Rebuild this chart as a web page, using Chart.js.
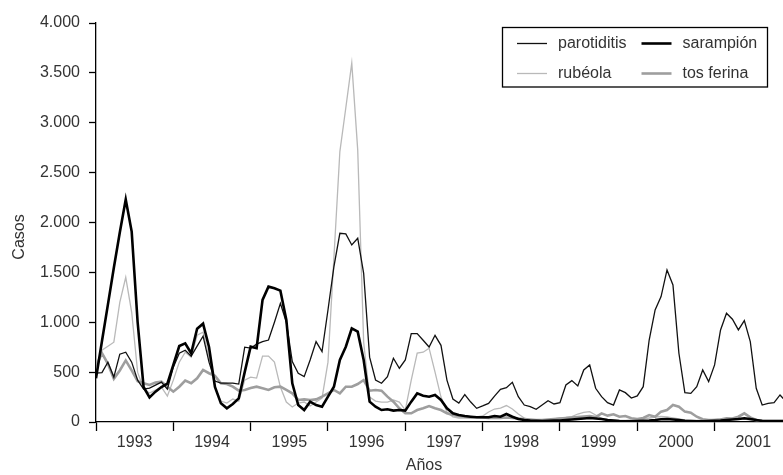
<!DOCTYPE html>
<html>
<head>
<meta charset="utf-8">
<script src="https://cdn.jsdelivr.net/npm/chart.js@4.4.1/dist/chart.umd.min.js"></script>
<style>
  html, body { margin: 0; padding: 0; background: #fff; }
</style>
</head>
<body>
<canvas id="casos" width="783" height="475"></canvas>
<script>
// 13 periodos de 4 semanas por año
const periodsPerYear = 13;
const years = ["1993", "1994", "1995", "1996", "1997", "1998", "1999", "2000", "2001"];
const yTicks = [0, 500, 1000, 1500, 2000, 2500, 3000, 3500, 4000];

const parotiditis = [
  490, 495, 600, 450, 680, 700, 600, 420, 330, 340, 370, 400, 330,
  550, 690, 720, 660, 760, 860, 600, 410, 390, 390, 390, 380, 750,
  740, 780, 806, 822, 1000, 1190, 1000, 605, 488, 455, 622, 806, 705,
  1123, 1558, 1892, 1886, 1775, 1842, 1490, 650, 421, 388, 455, 639, 539,
  622, 886, 886, 820, 752, 869, 769, 420, 230, 190, 275, 200, 137,
  161, 187, 260, 328, 344, 398, 254, 170, 154, 127, 170, 214, 181,
  194, 371, 415, 361, 522, 572, 338, 254, 194, 170, 321, 294, 240,
  261, 354, 822, 1123, 1257, 1524, 1374, 689, 294, 287, 354, 522, 405,
  572, 923, 1090, 1030, 923, 1016, 806, 338, 170, 187, 194, 271, 204
];
const sarampion = [
  438, 809, 1177, 1547, 1899, 2230, 1909, 1000, 351, 247, 304, 351, 384,
  572, 762, 789, 689, 936, 986, 752, 351, 187, 137, 180, 237, 500,
  755, 740, 1224, 1357, 1340, 1317, 1023, 388, 170, 120, 204, 170, 154,
  254, 354, 622, 755, 939, 906, 622, 204, 154, 120, 127, 114, 120,
  114, 204, 287, 264, 254, 271, 221, 137, 87, 70, 60, 53, 47,
  47, 47, 60, 53, 80, 53, 30, 20, 15, 12, 10, 12, 15,
  15, 20, 25, 30, 35, 40, 35, 30, 20, 15, 10, 8, 8,
  10, 12, 15, 20, 27, 30, 25, 20, 12, 10, 8, 8, 10,
  12, 15, 20, 25, 30, 37, 30, 20, 10, 8, 8, 6, 6
];
const rubeola = [
  500, 720, 760, 800, 1200, 1450, 1100, 500, 330, 290, 320, 350, 260,
  420, 600, 700, 650, 870, 900, 650, 350, 210, 190, 230, 210, 420,
  450, 440, 660, 660, 600, 350, 200, 150, 190, 200, 160, 200, 240,
  600, 1650, 2711, 3150, 3598, 2728, 800, 250, 210, 200, 200, 220, 200,
  120, 420, 690, 700, 740, 500, 250, 100, 50, 40, 40, 40, 50,
  60, 100, 130, 140, 165, 130, 80, 40, 20, 15, 15, 20, 30,
  40, 45, 53, 80, 97, 104, 70, 37, 25, 20, 15, 15, 20,
  25, 30, 40, 50, 55, 50, 40, 30, 20, 15, 15, 20, 20,
  25, 30, 30, 30, 35, 30, 20, 15, 10, 10, 10, 10, 10
];
const tosFerina = [
  560, 690, 583, 433, 517, 617, 517, 410, 388, 371, 395, 405, 354,
  304, 354, 415, 388, 438, 522, 489, 462, 388, 381, 354, 314, 321,
  340, 354, 338, 321, 348, 354, 321, 287, 221, 227, 221, 227, 254,
  287, 321, 287, 354, 354, 381, 421, 314, 321, 314, 254, 204, 137,
  87, 87, 120, 137, 160, 137, 120, 87, 70, 60, 53, 47, 47,
  45, 40, 40, 40, 45, 40, 35, 30, 25, 20, 20, 25, 30,
  35, 40, 45, 50, 55, 60, 50, 87, 64, 77, 53, 60, 37,
  30, 40, 70, 53, 104, 120, 170, 154, 104, 94, 53, 27, 20,
  20, 25, 37, 35, 53, 87, 47, 20, 15, 15, 15, 15, 15
];

const textFont = { family: "'Liberation Sans', Arial, sans-serif", size: 16 };
const textColor = "#333";

function toPoints(values) {
  return values.map((v, i) => ({ x: i, y: v }));
}
function formatMiles(v) {
  return String(v).replace(/\B(?=(\d{3})+(?!\d))/g, ".");
}

const series = [
  { label: "parotiditis", data: parotiditis, color: "#111", width: 1.3 },
  { label: "sarampión", data: sarampion, color: "#000", width: 2.6 },
  { label: "rubéola", data: rubeola, color: "#b9b9b9", width: 1.3 },
  { label: "tos ferina", data: tosFerina, color: "#9e9e9e", width: 2.6 },
];
// orden de dibujo: el menor "order" queda encima
const drawOrder = { "sarampión": 0, "parotiditis": 1, "tos ferina": 2, "rubéola": 3 };

const boxLegend = {
  id: "boxLegend",
  afterDraw(chart) {
    const ctx = chart.ctx;
    ctx.save();
    ctx.strokeStyle = "#000";
    ctx.lineWidth = 1.3;
    ctx.strokeRect(502.5, 27.5, 265, 59.5);
    const cols = [517, 641.5];
    const rows = [43.5, 73.5];
    ctx.font = textFont.size + "px " + textFont.family;
    ctx.fillStyle = textColor;
    ctx.textBaseline = "middle";
    ctx.textAlign = "left";
    series.forEach((s, i) => {
      const x = cols[i % 2];
      const y = rows[Math.floor(i / 2)];
      ctx.beginPath();
      ctx.strokeStyle = s.color;
      ctx.lineWidth = s.width;
      ctx.moveTo(x, y);
      ctx.lineTo(x + 30, y);
      ctx.stroke();
      ctx.fillText(s.label, x + 41, y);
    });
    ctx.restore();
  }
};

const axisTitles = {
  id: "axisTitles",
  afterDraw(chart) {
    const ctx = chart.ctx;
    ctx.save();
    ctx.font = textFont.size + "px " + textFont.family;
    ctx.fillStyle = textColor;
    ctx.textAlign = "center";
    ctx.textBaseline = "middle";
    ctx.fillText("Años", 424, 466);
    ctx.translate(20, 237);
    ctx.rotate(-Math.PI / 2);
    ctx.fillText("Casos", 0, 0);
    ctx.restore();
  }
};

new Chart(document.getElementById("casos"), {
  type: "line",
  data: {
    datasets: series.map((s) => ({
      label: s.label,
      data: toPoints(s.data),
      borderColor: s.color,
      borderWidth: s.width,
      pointRadius: 0,
      tension: 0,
      fill: false,
      order: drawOrder[s.label],
    })),
  },
  options: {
    responsive: false,
    animation: false,
    events: [],
    layout: { padding: { top: 23, right: 0, bottom: 0, left: 0 } },
    plugins: { legend: { display: false }, tooltip: { enabled: false } },
    scales: {
      x: {
        type: "linear",
        min: 0,
        max: 115.5,
        afterBuildTicks: (scale) => {
          const t = [];
          years.forEach((y, k) => {
            t.push({ value: k * periodsPerYear });
            t.push({ value: k * periodsPerYear + periodsPerYear / 2 });
          });
          scale.ticks = t;
        },
        afterFit: (scale) => { scale.height = 53; },
        ticks: {
          autoSkip: false,
          maxRotation: 0,
          padding: 2,
          font: textFont,
          color: textColor,
          callback: (v) => {
            const k = (v - periodsPerYear / 2) / periodsPerYear;
            return Number.isInteger(k) ? years[k] : "";
          },
        },
        grid: {
          drawOnChartArea: false,
          tickLength: 9,
          tickWidth: 1.3,
          tickColor: (ctx) => (ctx.tick && ctx.tick.value % periodsPerYear === 0 ? "#000" : "rgba(0,0,0,0)"),
        },
        border: { color: "#000", width: 1.3 },
      },
      y: {
        min: 0,
        max: 4000,
        afterBuildTicks: (scale) => { scale.ticks = yTicks.map((v) => ({ value: v })); },
        afterFit: (scale) => { scale.width = 96; },
        ticks: {
          padding: 9,
          font: textFont,
          color: textColor,
          callback: (v) => formatMiles(v),
        },
        grid: { drawOnChartArea: false, tickLength: 7, tickWidth: 1.3, tickColor: "#000" },
        border: { color: "#000", width: 1.3 },
      },
    },
  },
  plugins: [boxLegend, axisTitles],
});
</script>
</body>
</html>
